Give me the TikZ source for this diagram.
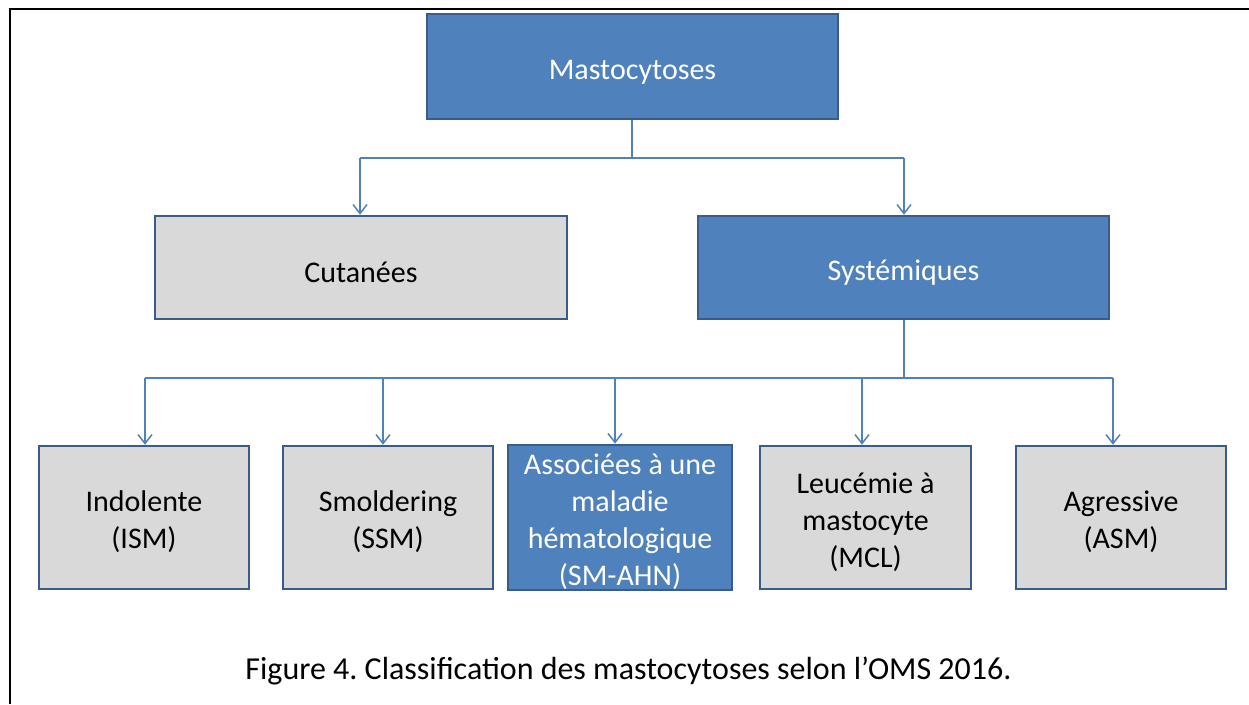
\documentclass[tikz,border=0pt]{standalone}
\usepackage{fontspec}
\setmainfont{Carlito}
\usetikzlibrary{arrows.meta}
\frenchspacing
\definecolor{boxblue}{RGB}{79,129,189}
\definecolor{boxedge}{RGB}{56,93,138}
\definecolor{boxgray}{RGB}{217,217,217}
\definecolor{linkblue}{RGB}{79,129,189}
\newcommand\boxstrut{\rule{0pt}{30pt}}
\tikzset{
  basebox/.style={rectangle, draw=boxedge, line width=2.5pt, align=center, inner sep=0pt,
    font=\fontsize{30}{37}\selectfont},
  bluebox/.style={basebox, fill=boxblue, text=white},
  graybox/.style={basebox, fill=boxgray, text=black},
  link/.style={draw=linkblue, line width=1.5pt},
  arr/.style={link, -{Straight Barb[length=9pt,width=14pt,line width=1.5pt]}},
}
\begin{document}
\begin{tikzpicture}[x=1pt,y=-1pt]
\useasboundingbox (0,0) rectangle (1249,704);
\draw[line width=2.5pt] (10,704) -- (10,9) -- (1249,9);

\node[bluebox, minimum width=411pt, minimum height=105pt] (mast) at (632.5,66.5) {\boxstrut Mastocytoses};
\node[graybox, minimum width=412pt, minimum height=103pt] (cut) at (361,267.5) {\boxstrut Cutanées};
\node[bluebox, minimum width=411pt, minimum height=103pt] (sys) at (903.5,267.5) {\boxstrut Systémiques};

\node[graybox, minimum width=210pt, minimum height=143pt] (ind) at (144,517.5) {\boxstrut Indolente\\(ISM)};
\node[graybox, minimum width=210pt, minimum height=143pt] (smo) at (388,517.5) {\boxstrut Smoldering\\(SSM)};
\node[bluebox, minimum width=224pt, minimum height=143pt] (ahn) at (620,517.5) {\boxstrut Associées à une\\maladie\\hématologique\\(SM-AHN)};
\node[graybox, minimum width=211pt, minimum height=143pt] (leu) at (865.5,517.5) {\boxstrut Leucémie à\\mastocyte\\(MCL)};
\node[graybox, minimum width=210pt, minimum height=143pt] (agr) at (1121,517.5) {\boxstrut Agressive\\(ASM)};

% first level
\coordinate (bus1) at (632,158);
\coordinate (b1l) at (360,158);
\coordinate (b1r) at (904,158);
\draw[link] (mast.south -| bus1) -- (bus1);
\draw[link] (b1l) -- (b1r);
\draw[arr] (b1l) -- (cut.north -| b1l);
\draw[arr] (b1r) -- (sys.north -| b1r);

% second level
\coordinate (bus2) at (904,378);
\coordinate (b2l) at (145,378);
\coordinate (b2r) at (1113,378);
\draw[link] (sys.south -| bus2) -- (bus2);
\draw[link] (b2l) -- (b2r);
\draw[arr] (b2l) -- (ind.north -| b2l);
\draw[arr] ([xshift=-5pt]smo.north |- bus2) -- ([xshift=-5pt]smo.north);
\draw[arr] ([xshift=-5pt]ahn.north |- bus2) -- ([xshift=-5pt]ahn.north);
\draw[arr] ([xshift=-3.5pt]leu.north |- bus2) -- ([xshift=-3.5pt]leu.north);
\draw[arr] (b2r) -- (agr.north -| b2r);

\node[font=\fontsize{32}{38}\selectfont, inner sep=0pt] (cap) at (628.5,671) {Figure 4. Classification des mastocytoses selon l’OMS 2016.};
\end{tikzpicture}
\end{document}
